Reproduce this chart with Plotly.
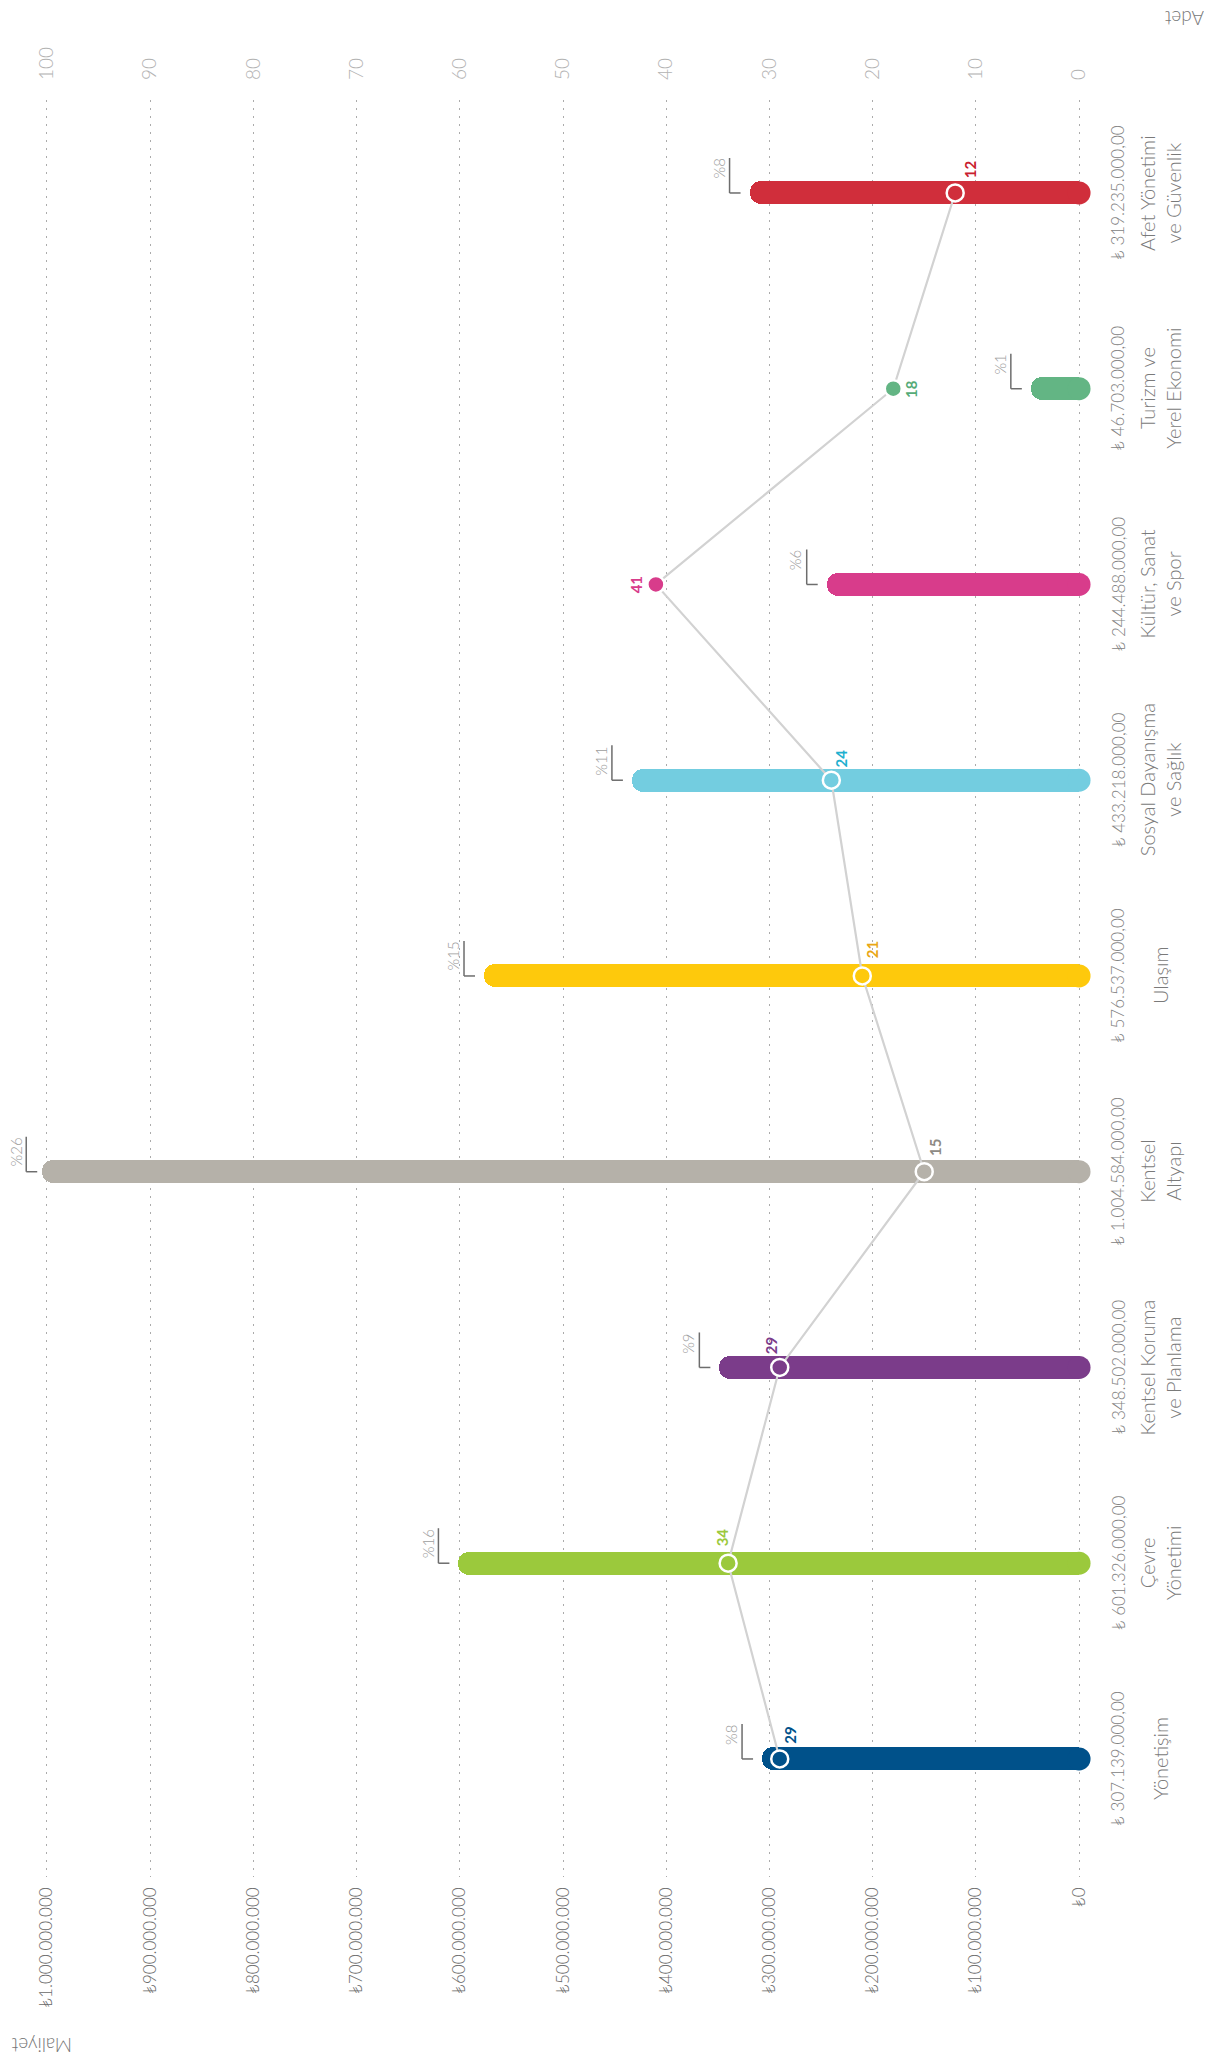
import plotly.graph_objects as go

# ---------------- data ----------------
categories = ["Yönetişim", "Çevre Yönetimi", "Kentsel Koruma ve Planlama", "Kentsel Altyapı",
              "Ulaşım", "Sosyal Dayanışma ve Sağlık", "Kültür, Sanat ve Spor",
              "Turizm ve Yerel Ekonomi", "Afet Yönetimi ve Güvenlik"]
category_labels = ["Yönetişim", "Çevre<br>Yönetimi", "Kentsel Koruma<br>ve Planlama", "Kentsel<br>Altyapı",
                   "Ulaşım", "Sosyal Dayanışma<br>ve Sağlık", "Kültür, Sanat<br>ve Spor",
                   "Turizm ve<br>Yerel Ekonomi", "Afet Yönetimi<br>ve Güvenlik"]
cost = [307139000, 601326000, 348502000, 1004584000, 576537000, 433218000, 244488000, 46703000, 319235000]
cost_labels = ["₺ 307.139.000,00", "₺ 601.326.000,00", "₺ 348.502.000,00", "₺ 1.004.584.000,00",
               "₺ 576.537.000,00", "₺ 433.218.000,00", "₺ 244.488.000,00", "₺ 46.703.000,00",
               "₺ 319.235.000,00"]
count = [29, 34, 29, 15, 21, 24, 41, 18, 12]
share = ["%8", "%16", "%9", "%26", "%15", "%11", "%6", "%1", "%8"]

maliyet_ticks = [0, 100000000, 200000000, 300000000, 400000000, 500000000,
                 600000000, 700000000, 800000000, 900000000, 1000000000]
maliyet_ticktext = ["₺0", "₺100.000.000", "₺200.000.000", "₺300.000.000", "₺400.000.000",
                    "₺500.000.000", "₺600.000.000", "₺700.000.000", "₺800.000.000",
                    "₺900.000.000", "₺1.000.000.000"]
adet_ticks = [0, 10, 20, 30, 40, 50, 60, 70, 80, 90, 100]

# ---------------- style ----------------
bar_colors = ["#00518a", "#9bc93c", "#7b3c8a", "#b5b1a9", "#fec90c",
              "#73cde0", "#d83c8b", "#63b584", "#d02e3b"]
label_colors = ["#00518a", "#9bc93c", "#7b3c8a", "#8e8a84", "#e9a715",
                "#1fb0cf", "#d83c8b", "#55ab77", "#c9202f"]
# dot label offsets in screen px (dx right, dy up)
lbl_dx = [10, -6, -8, 10, 10, 10, -19, 17, 15]
lbl_dy = [24, 26, 22, 24, 26, 22, 0, 0, 24]
# share label / bracket offsets from bar end (px, negative = left)
share_text_dx = [-31, -31, -31, -26, -31, -31, -31, -31, -31]
bracket_dx = [-20, -20, -20, -16, -20, -20, -20, -20, -20]

FONT = "Lato"
OFF = 8                      # page body margin
W, H = 1212 - OFF, 2066 - OFF
ML, MR, MT, MB = 16 - OFF, 1212 - 1110, 100 - OFF, 2066 - 1877
PW = W - ML - MR
PH = H - MT - MB
BAR_PX = 23
CAT_PX = 195.75


def px2paper_x(px):          # px = screen pixel
    return (px - OFF - ML) / PW


def px2paper_y(py):
    return (H - MB - (py - OFF)) / PH


ypos = list(range(len(categories)))

fig = go.Figure()

# bars with rounded outer end
fig.add_trace(go.Bar(
    x=cost, y=ypos, orientation="h", width=BAR_PX / CAT_PX,
    marker=dict(color=bar_colors, line=dict(width=0), cornerradius="50%"),
    hoverinfo="skip", showlegend=False,
))
# rounded caps at the base
fig.add_trace(go.Scatter(
    x=[0] * len(cost), y=ypos, mode="markers",
    marker=dict(color=bar_colors, size=BAR_PX, line=dict(width=0)),
    cliponaxis=False, hoverinfo="skip", showlegend=False,
))

# count line + dots
fig.add_trace(go.Scatter(
    x=count, y=ypos, xaxis="x2", yaxis="y", mode="lines+markers",
    line=dict(color="#d2d2d2", width=2.2),
    marker=dict(color=bar_colors, size=17, line=dict(color="white", width=2.5)),
    cliponaxis=False, hoverinfo="skip", showlegend=False,
))

annotations = []
shapes = []
for i in range(len(categories)):
    annotations.append(dict(
        x=count[i], y=ypos[i], xref="x2", yref="y", text="<b>%d</b>" % count[i],
        showarrow=False, textangle=-90, xshift=lbl_dx[i], yshift=lbl_dy[i],
        xanchor="center", yanchor="middle",
        font=dict(family=FONT, size=15, color=label_colors[i]),
    ))
    annotations.append(dict(
        x=cost[i], y=ypos[i], xref="x", yref="y", text=share[i],
        showarrow=False, textangle=-90, xshift=share_text_dx[i], yshift=36,
        yanchor="top", xanchor="center",
        font=dict(family=FONT, size=15, color="#9d9d9d", weight=300),
    ))
    bx = bracket_dx[i]
    shapes.append(dict(type="line", xref="x", yref="y", xsizemode="pixel", ysizemode="pixel",
                       xanchor=cost[i], yanchor=ypos[i], x0=bx, x1=bx, y0=0, y1=35,
                       line=dict(color="#6d6d6d", width=1.5)))
    shapes.append(dict(type="line", xref="x", yref="y", xsizemode="pixel", ysizemode="pixel",
                       xanchor=cost[i], yanchor=ypos[i], x0=bx, x1=bx + 11, y0=0, y1=0,
                       line=dict(color="#6d6d6d", width=1.5)))
    annotations.append(dict(
        x=px2paper_x(1118), y=ypos[i], xref="paper", yref="y", text=cost_labels[i],
        showarrow=False, textangle=-90, xanchor="center", yanchor="middle",
        font=dict(family=FONT, size=17, color="#828282", weight=300),
    ))
    annotations.append(dict(
        x=px2paper_x(1160), y=ypos[i], xref="paper", yref="y", text=category_labels[i],
        showarrow=False, textangle=-90, xanchor="center", yanchor="middle", align="center",
        font=dict(family=FONT, size=20, color="#7a7a7a", weight=300),
    ))

annotations.append(dict(x=px2paper_x(1184), y=px2paper_y(19), xref="paper", yref="paper",
                        text="Adet", showarrow=False, textangle=180,
                        xanchor="center", yanchor="middle",
                        font=dict(family=FONT, size=19, color="#777777", weight=300)))
annotations.append(dict(x=px2paper_x(42), y=px2paper_y(2046), xref="paper", yref="paper",
                        text="Maliyet", showarrow=False, textangle=180,
                        xanchor="center", yanchor="middle",
                        font=dict(family=FONT, size=19, color="#777777", weight=300)))

fig.update_layout(
    width=W, height=H,
    margin=dict(l=ML, r=MR, t=MT, b=MB),
    plot_bgcolor="white", paper_bgcolor="white",
    font=dict(family=FONT),
    bargap=0,
    xaxis=dict(
        range=[1.03e9, -0.03e9], tickvals=maliyet_ticks, ticktext=maliyet_ticktext,
        tickangle=-90, side="bottom", showgrid=True, gridcolor="#ababab", griddash="2px,6px",
        gridwidth=1.2, zeroline=False, showline=False, ticks="", ticklabelstandoff=6,
        tickfont=dict(family=FONT, size=17, color="#6a6a6a", weight=300),
    ),
    xaxis2=dict(
        range=[103, -3], tickvals=adet_ticks, overlaying="x", side="top",
        tickangle=-90, showgrid=False, zeroline=False, showline=False, ticks="",
        ticklabelstandoff=19,
        tickfont=dict(family=FONT, size=19, color="#b3b3b3", weight=300),
    ),
    yaxis=dict(range=[-0.603, 8.475], showticklabels=False, showgrid=False,
               zeroline=False, showline=False, fixedrange=True),
    annotations=annotations,
    shapes=shapes,
)

fig.write_html("out.html")
